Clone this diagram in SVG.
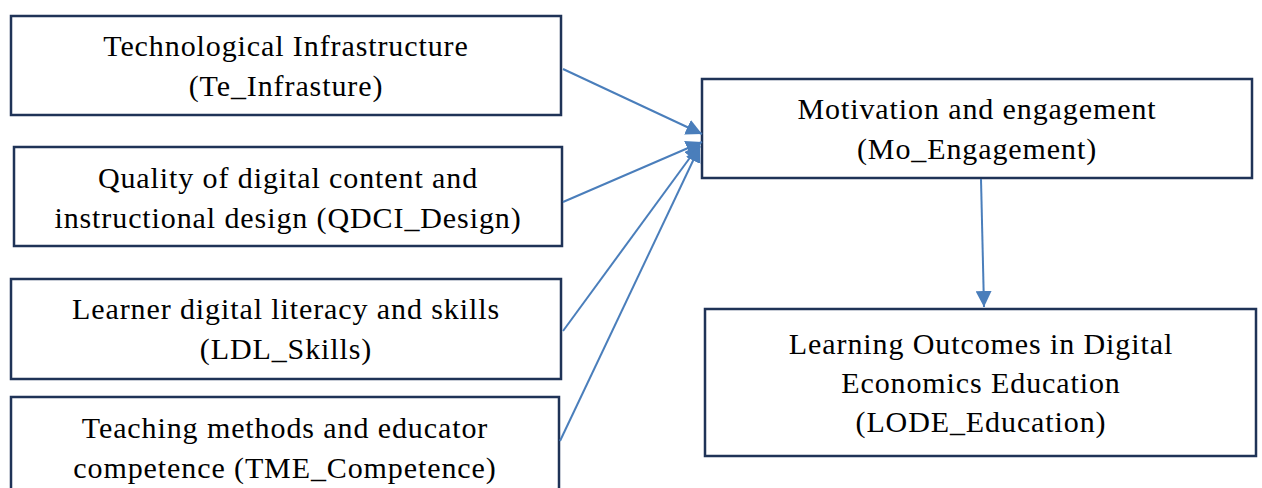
<svg xmlns="http://www.w3.org/2000/svg" width="1262" height="488" viewBox="0 0 1262 488">
  <style>
    .box { fill: #ffffff; stroke: #1f3357; stroke-width: 2.5; }
    .lbl { font-family: "Liberation Serif", "DejaVu Serif", serif; font-size: 30px; letter-spacing: 0.9px; fill: #000000; text-anchor: middle; }
    .link { stroke: #4a7ebb; stroke-width: 2; fill: none; }
  </style>
  <defs>
    <marker id="head" viewBox="0 0 10 10" refX="10" refY="5" markerWidth="16" markerHeight="16" markerUnits="userSpaceOnUse" orient="auto">
      <path d="M0,0 L10,5 L0,10 Z" fill="#4a7ebb"/>
    </marker>
  </defs>

  <rect width="1262" height="488" fill="#ffffff"/>

  <g id="te-infrastructure">
    <rect class="box" x="11" y="16" width="550" height="99"/>
    <text class="lbl" x="286" y="56">Technological Infrastructure</text>
    <text class="lbl" x="286" y="96">(Te_Infrasture)</text>
  </g>

  <g id="qdci-design">
    <rect class="box" x="14" y="147" width="548" height="99"/>
    <text class="lbl" x="288" y="188">Quality of digital content and</text>
    <text class="lbl" x="288" y="228">instructional design (QDCI_Design)</text>
  </g>

  <g id="ldl-skills">
    <rect class="box" x="11" y="279" width="550" height="100"/>
    <text class="lbl" x="286" y="319">Learner digital literacy and skills</text>
    <text class="lbl" x="286" y="359">(LDL_Skills)</text>
  </g>

  <g id="tme-competence">
    <rect class="box" x="11" y="397" width="548" height="100"/>
    <text class="lbl" x="285" y="438">Teaching methods and educator</text>
    <text class="lbl" x="285" y="478">competence (TME_Competence)</text>
  </g>

  <g id="mo-engagement">
    <rect class="box" x="702" y="79" width="550" height="99"/>
    <text class="lbl" x="977" y="119">Motivation and engagement</text>
    <text class="lbl" x="977" y="159">(Mo_Engagement)</text>
  </g>

  <g id="lode-education">
    <rect class="box" x="705" y="309" width="551" height="147"/>
    <text class="lbl" x="981" y="354">Learning Outcomes in Digital</text>
    <text class="lbl" x="981" y="393">Economics Education</text>
    <text class="lbl" x="981" y="432">(LODE_Education)</text>
  </g>

  <g id="connectors">
    <line class="link" x1="563" y1="69" x2="702" y2="134" marker-end="url(#head)"/>
    <line class="link" x1="563" y1="202" x2="702" y2="142" marker-end="url(#head)"/>
    <line class="link" x1="563" y1="331" x2="700" y2="144" marker-end="url(#head)"/>
    <line class="link" x1="560" y1="441" x2="700" y2="146" marker-end="url(#head)"/>
    <line class="link" x1="981" y1="179" x2="984" y2="307" marker-end="url(#head)"/>
  </g>
</svg>
